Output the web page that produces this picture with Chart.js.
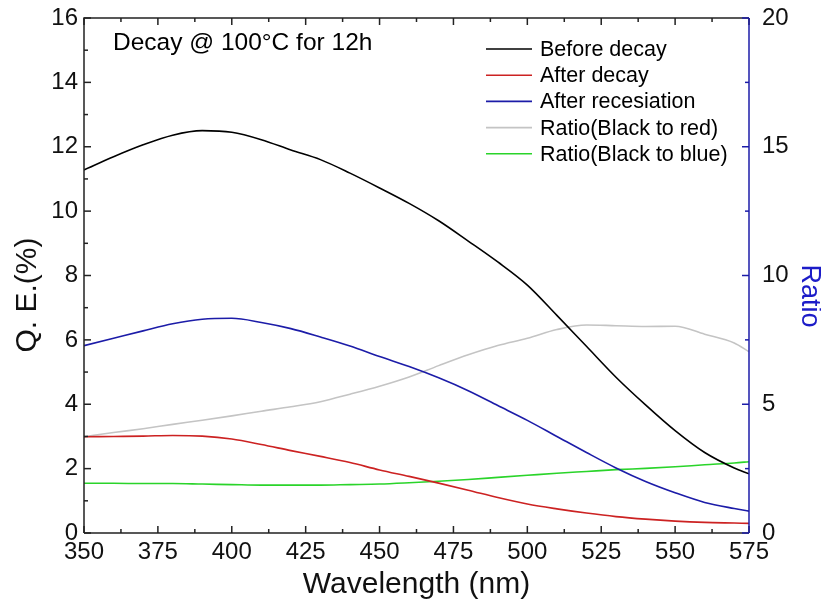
<!DOCTYPE html>
<html lang="en">
<head>
<meta charset="UTF-8">
<title>Decay @ 100°C for 12h</title>
<script src="https://cdn.jsdelivr.net/npm/chart.js"></script>
<style>
    body {
        margin: 0;
        padding: 0;
        background: #ffffff;
    }
    #wrap {
        width: 821px;
        height: 604px;
    }
</style>
</head>
<body>
<div id="wrap">
    <canvas id="qeChart" width="821" height="604"></canvas>
</div>
<script>
    // Datos
    const wavelengths = [350, 360, 370, 380, 390, 400, 410, 420, 430, 440, 450, 460, 470, 480, 490, 500, 510, 520, 530, 540, 550, 560, 570, 575];
    const beforeDecay = [11.28, 11.69, 12.06, 12.36, 12.50, 12.45, 12.22, 11.90, 11.60, 11.18, 10.72, 10.24, 9.70, 9.07, 8.42, 7.70, 6.76, 5.80, 4.84, 3.98, 3.18, 2.50, 2.02, 1.84];
    const afterDecay = [2.99, 3.00, 3.01, 3.03, 3.01, 2.92, 2.75, 2.56, 2.38, 2.19, 1.96, 1.76, 1.55, 1.33, 1.10, 0.90, 0.75, 0.62, 0.51, 0.43, 0.37, 0.33, 0.31, 0.30];
    const afterRecesiation = [5.82, 6.05, 6.28, 6.50, 6.64, 6.67, 6.54, 6.35, 6.09, 5.81, 5.48, 5.17, 4.82, 4.42, 3.96, 3.50, 3.00, 2.50, 2.02, 1.60, 1.25, 0.95, 0.76, 0.68];
    const ratioBlackRed = [3.74, 3.90, 4.05, 4.22, 4.38, 4.55, 4.73, 4.90, 5.10, 5.39, 5.70, 6.06, 6.50, 6.92, 7.28, 7.56, 7.90, 8.08, 8.05, 8.02, 8.03, 7.72, 7.38, 7.04];
    const ratioBlackBlue = [1.93, 1.93, 1.92, 1.92, 1.90, 1.88, 1.86, 1.86, 1.86, 1.88, 1.90, 1.95, 2.01, 2.08, 2.16, 2.24, 2.32, 2.39, 2.46, 2.51, 2.57, 2.65, 2.72, 2.77];

    const seriesLabels = ["Before decay", "After decay", "After recesiation", "Ratio(Black to red)", "Ratio(Black to blue)"];
    const seriesColors = ["#000000", "#cc2222", "#1c1ca8", "#c4c4c4", "#2ad42a"];
    const noteText = "Decay @ 100\u00B0C for 12h";
    const leftTitle = "Q. E.(%)";
    const rightTitle = "Ratio";

    const FONT = "'Liberation Sans', Arial, sans-serif";
    const BLUE_AXIS = "#1c1ca8";

    function toPoints(values) {
        return wavelengths.map((w, i) => ({ x: w, y: values[i] }));
    }

    // Marco y marcas hacia dentro, leyenda, nota y titulos verticales
    const framePlugin = {
        id: 'framePlugin',
        afterDraw(chart) {
            const { ctx, chartArea: a, scales } = chart;
            ctx.save();
            ctx.lineWidth = 1.5;

            // eje x, abajo y arriba
            ctx.strokeStyle = "#222";
            for (let v = 350; v <= 575; v += 12.5) {
                const p = scales.x.getPixelForValue(v);
                const len = (v - 350) % 25 === 0 ? 7 : 4;
                ctx.beginPath();
                ctx.moveTo(p, a.bottom); ctx.lineTo(p, a.bottom - len);
                ctx.moveTo(p, a.top); ctx.lineTo(p, a.top + len);
                ctx.stroke();
            }
            // eje izquierdo
            for (let v = 0; v <= 16; v += 1) {
                const p = scales.y.getPixelForValue(v);
                const len = v % 2 === 0 ? 7 : 4;
                ctx.beginPath();
                ctx.moveTo(a.left, p); ctx.lineTo(a.left + len, p);
                ctx.stroke();
            }
            ctx.beginPath();
            ctx.moveTo(a.left, a.bottom); ctx.lineTo(a.left, a.top); ctx.lineTo(a.right, a.top);
            ctx.moveTo(a.left, a.bottom); ctx.lineTo(a.right, a.bottom);
            ctx.stroke();

            // eje derecho en azul
            ctx.strokeStyle = BLUE_AXIS;
            for (let v = 0; v <= 20; v += 2.5) {
                const p = scales.y2.getPixelForValue(v);
                const len = v % 5 === 0 ? 7 : 4;
                ctx.beginPath();
                ctx.moveTo(a.right, p); ctx.lineTo(a.right - len, p);
                ctx.stroke();
            }
            ctx.beginPath();
            ctx.moveTo(a.right, a.top); ctx.lineTo(a.right, a.bottom);
            ctx.stroke();

            // leyenda
            ctx.font = "21.5px " + FONT;
            ctx.textBaseline = "middle";
            ctx.fillStyle = "#000";
            chart.data.datasets.forEach((ds, i) => {
                const y = 49 + i * 26.2;
                ctx.strokeStyle = ds.borderColor;
                ctx.lineWidth = 1.6;
                ctx.beginPath();
                ctx.moveTo(486, y); ctx.lineTo(532, y);
                ctx.stroke();
                ctx.fillText(ds.label, 540, y + 1);
            });

            // nota
            ctx.font = "24.5px " + FONT;
            ctx.fillText(noteText, 113, 43);

            // titulos de los ejes y
            ctx.font = "30px " + FONT;
            ctx.textAlign = "center";
            ctx.save();
            ctx.translate(28, 295);
            ctx.rotate(-Math.PI / 2);
            ctx.fillStyle = "#111";
            ctx.fillText(leftTitle, 0, 0);
            ctx.restore();

            ctx.font = "27px " + FONT;
            ctx.save();
            ctx.translate(809, 296);
            ctx.rotate(Math.PI / 2);
            ctx.fillStyle = "#1c1cc8";
            ctx.fillText(rightTitle, 0, 0);
            ctx.restore();

            ctx.restore();
        }
    };

    const ctx = document.getElementById('qeChart').getContext('2d');
    const qeChart = new Chart(ctx, {
        type: 'line',
        data: {
            datasets: [
                { label: seriesLabels[0], data: toPoints(beforeDecay), borderColor: seriesColors[0], yAxisID: 'y' },
                { label: seriesLabels[1], data: toPoints(afterDecay), borderColor: seriesColors[1], yAxisID: 'y' },
                { label: seriesLabels[2], data: toPoints(afterRecesiation), borderColor: seriesColors[2], yAxisID: 'y' },
                { label: seriesLabels[3], data: toPoints(ratioBlackRed), borderColor: seriesColors[3], yAxisID: 'y2' },
                { label: seriesLabels[4], data: toPoints(ratioBlackBlue), borderColor: seriesColors[4], yAxisID: 'y2' }
            ]
        },
        options: {
            responsive: false,
            animation: false,
            layout: { padding: { top: 18, left: 0, right: 0, bottom: 0 } },
            elements: {
                line: { borderWidth: 1.6, tension: 0.4, cubicInterpolationMode: 'monotone', fill: false },
                point: { radius: 0 }
            },
            plugins: {
                legend: { display: false },
                tooltip: { enabled: false }
            },
            scales: {
                x: {
                    type: 'linear',
                    min: 350,
                    max: 575,
                    grid: { display: false, drawTicks: false },
                    border: { display: false },
                    ticks: { stepSize: 25, padding: 5, color: '#111', font: { size: 24, family: FONT } },
                    title: { display: true, text: 'Wavelength (nm)', color: '#111', font: { size: 30, family: FONT }, padding: { top: 0, bottom: 1 } },
                    afterFit(scale) { scale.height = 71; scale.paddingLeft = 0; scale.paddingRight = 0; }
                },
                y: {
                    position: 'left',
                    min: 0,
                    max: 16,
                    grid: { display: false, drawTicks: false },
                    border: { display: false },
                    ticks: { stepSize: 2, padding: 6, color: '#111', font: { size: 24, family: FONT } },
                    afterFit(scale) { scale.width = 84; scale.paddingTop = 0; scale.paddingBottom = 0; }
                },
                y2: {
                    position: 'right',
                    min: 0,
                    max: 20,
                    grid: { display: false, drawTicks: false },
                    border: { display: false },
                    ticks: { stepSize: 5, padding: 13, color: '#111', font: { size: 24, family: FONT } },
                    afterFit(scale) { scale.width = 72; scale.paddingTop = 0; scale.paddingBottom = 0; }
                }
            }
        },
        plugins: [framePlugin]
    });
</script>
</body>
</html>
